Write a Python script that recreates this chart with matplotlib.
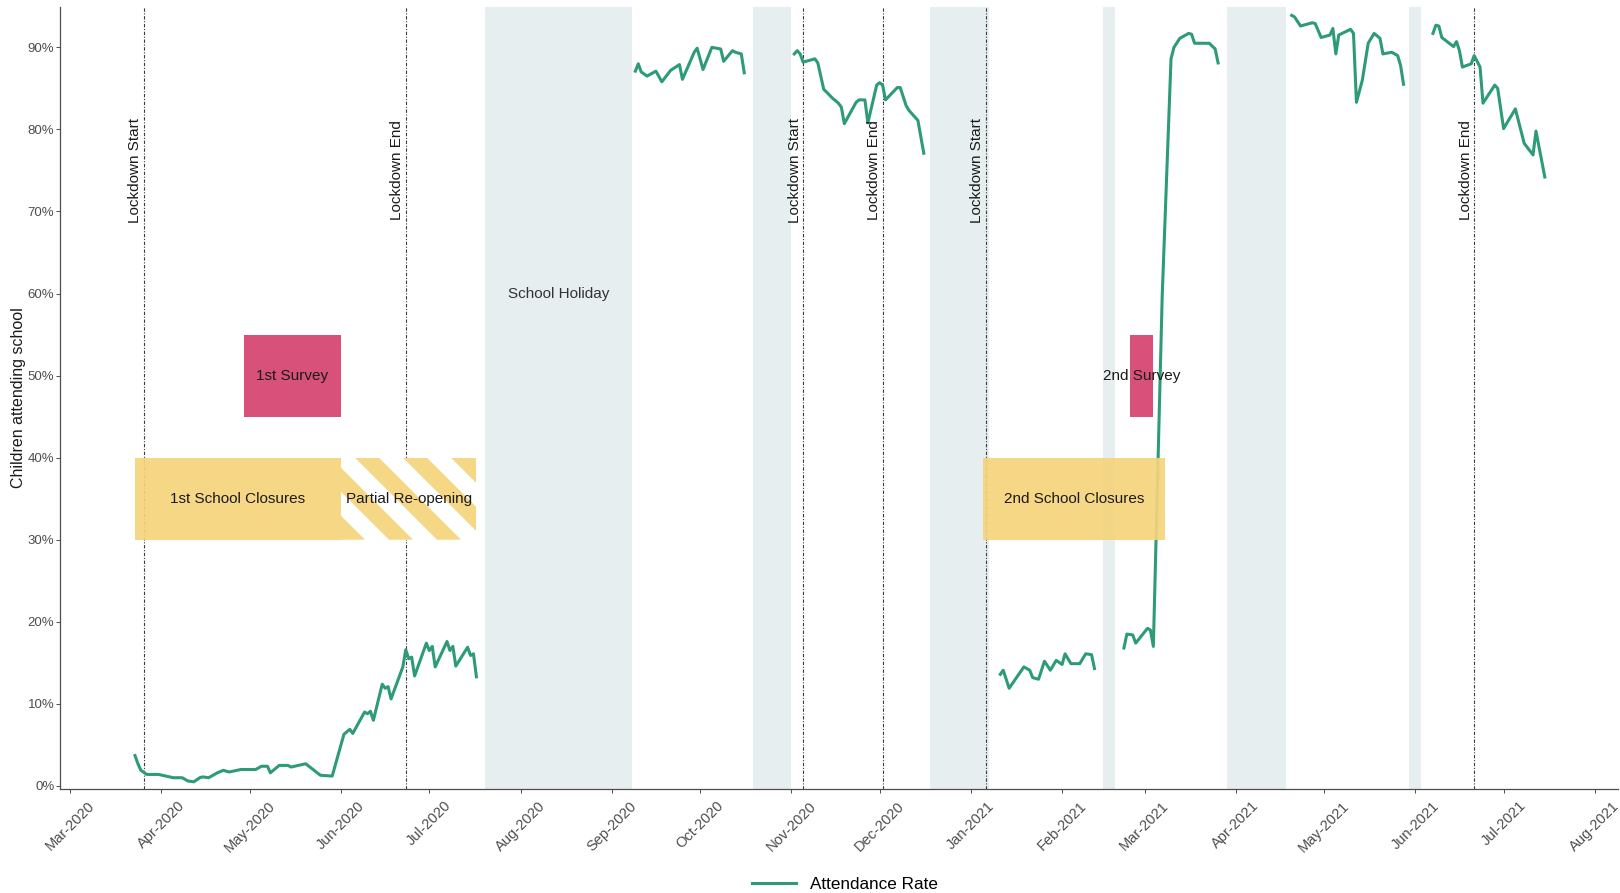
import matplotlib

matplotlib.use("Agg")
import matplotlib.pyplot as plt
import matplotlib.dates as mdates
import pandas as pd
from matplotlib.lines import Line2D
from matplotlib.patches import Polygon, Rectangle
from matplotlib.ticker import FuncFormatter, MultipleLocator

plt.rcParams.update({"font.family": ["Liberation Sans", "DejaVu Sans"], "font.size": 10})

GREEN = "#2E9B77"
SHADE = "#E6EEF0"
YELLOW = "#F5D47C"
PINK = "#D5426F"
INK = "#1A1A1A"
AXIS = "#4D4D4D"

# ── attendance rate (%), one list pair per school term ──
term1_dates = ["2020-03-23", "2020-03-24", "2020-03-25", "2020-03-27", "2020-03-31", "2020-04-05",
               "2020-04-08", "2020-04-10", "2020-04-12", "2020-04-14", "2020-04-15", "2020-04-17",
               "2020-04-20", "2020-04-22", "2020-04-24", "2020-04-28", "2020-04-30", "2020-05-03",
               "2020-05-05", "2020-05-07", "2020-05-08", "2020-05-11", "2020-05-14", "2020-05-15",
               "2020-05-20", "2020-05-25", "2020-05-29", "2020-06-02", "2020-06-04", "2020-06-05",
               "2020-06-09", "2020-06-10", "2020-06-11", "2020-06-12", "2020-06-15", "2020-06-16",
               "2020-06-17", "2020-06-18", "2020-06-22", "2020-06-23", "2020-06-24", "2020-06-25",
               "2020-06-26", "2020-06-30", "2020-07-01", "2020-07-02", "2020-07-03", "2020-07-07",
               "2020-07-08", "2020-07-09", "2020-07-10", "2020-07-14", "2020-07-15", "2020-07-16",
               "2020-07-17"]
term1_vals = [3.7, 2.7, 1.9, 1.4, 1.4, 1.0, 1.0, 0.6, 0.5, 1.0, 1.1, 1.0, 1.6, 1.9, 1.7, 2.0, 2.0, 2.0,
              2.4, 2.4, 1.6, 2.5, 2.5, 2.3, 2.7, 1.3, 1.2, 6.3, 6.9, 6.4, 9.0, 8.8, 9.1, 8.0, 12.4, 11.9,
              12.1, 10.6, 14.5, 16.6, 15.5, 15.7, 13.4, 17.4, 16.5, 17.0, 14.5, 17.6, 16.5, 17.0, 14.6,
              16.9, 15.9, 16.1, 13.3]

term2_dates = ["2020-09-09", "2020-09-10", "2020-09-11", "2020-09-13", "2020-09-16", "2020-09-18",
               "2020-09-21", "2020-09-24", "2020-09-25", "2020-09-29", "2020-09-30", "2020-10-02",
               "2020-10-05", "2020-10-08", "2020-10-09", "2020-10-12", "2020-10-13", "2020-10-15",
               "2020-10-16"]
term2_vals = [87.1, 88.0, 87.0, 86.5, 87.1, 85.8, 87.2, 87.9, 86.1, 89.4, 89.9, 87.3, 90.0, 89.8, 88.3,
              89.6, 89.4, 89.2, 86.9]

term3_dates = ["2020-11-02", "2020-11-03", "2020-11-04", "2020-11-05", "2020-11-09", "2020-11-10",
               "2020-11-12", "2020-11-15", "2020-11-17", "2020-11-18", "2020-11-19", "2020-11-23",
               "2020-11-24", "2020-11-26", "2020-11-27", "2020-11-30", "2020-12-01", "2020-12-02",
               "2020-12-03", "2020-12-07", "2020-12-08", "2020-12-10", "2020-12-11", "2020-12-14",
               "2020-12-16"]
term3_vals = [89.2, 89.6, 89.2, 88.2, 88.6, 88.1, 84.9, 83.8, 83.2, 82.7, 80.7, 83.3, 83.6, 83.6, 80.8,
              85.4, 85.7, 85.4, 83.6, 85.1, 85.1, 82.9, 82.3, 81.1, 77.1]

term4_dates = ["2021-01-11", "2021-01-12", "2021-01-14", "2021-01-19", "2021-01-21", "2021-01-22",
               "2021-01-24", "2021-01-26", "2021-01-28", "2021-01-30", "2021-02-01", "2021-02-02",
               "2021-02-04", "2021-02-07", "2021-02-09", "2021-02-11", "2021-02-12"]
term4_vals = [13.6, 14.1, 11.9, 14.5, 14.1, 13.2, 13.0, 15.2, 14.1, 15.3, 14.8, 16.1, 14.9, 14.9, 16.1,
              16.0, 14.3]

term5_dates = ["2021-02-22", "2021-02-23", "2021-02-25", "2021-02-26", "2021-03-02", "2021-03-03",
               "2021-03-04", "2021-03-07", "2021-03-10", "2021-03-11", "2021-03-13", "2021-03-16",
               "2021-03-17", "2021-03-18", "2021-03-23", "2021-03-25", "2021-03-26"]
term5_vals = [16.8, 18.5, 18.4, 17.4, 19.2, 19.0, 17.0, 59.6, 88.6, 90.0, 91.1, 91.7, 91.6, 90.5, 90.5,
              89.8, 88.1]

term6_dates = ["2021-04-20", "2021-04-21", "2021-04-23", "2021-04-27", "2021-04-28", "2021-04-30",
               "2021-05-03", "2021-05-04", "2021-05-05", "2021-05-06", "2021-05-10", "2021-05-11",
               "2021-05-12", "2021-05-14", "2021-05-16", "2021-05-18", "2021-05-20", "2021-05-21",
               "2021-05-24", "2021-05-26", "2021-05-27", "2021-05-28"]
term6_vals = [93.9, 93.7, 92.6, 93.0, 92.9, 91.2, 91.5, 92.3, 89.2, 91.5, 92.2, 91.7, 83.3, 86.0, 90.5,
              91.7, 91.1, 89.2, 89.4, 89.0, 87.8, 85.5]

term7_dates = ["2021-06-07", "2021-06-08", "2021-06-09", "2021-06-10", "2021-06-14", "2021-06-15",
               "2021-06-16", "2021-06-17", "2021-06-20", "2021-06-21", "2021-06-23", "2021-06-24",
               "2021-06-28", "2021-06-29", "2021-07-01", "2021-07-05", "2021-07-08", "2021-07-11",
               "2021-07-12", "2021-07-15"]
term7_vals = [91.7, 92.7, 92.6, 91.2, 90.1, 90.7, 89.6, 87.6, 88.0, 89.0, 87.6, 83.2, 85.4, 85.0, 80.1,
              82.5, 78.3, 76.9, 79.8, 74.2]

# ── school holidays (shaded) ──
holiday_starts = ["2020-07-20", "2020-10-19", "2020-12-18", "2021-02-15", "2021-03-29", "2021-05-30"]
holiday_ends = ["2020-09-08", "2020-11-01", "2021-01-07", "2021-02-19", "2021-04-18", "2021-06-03"]

# ── lockdown markers ──
lockdown_dates = ["2020-03-26", "2020-06-23", "2020-11-05", "2020-12-02", "2021-01-06", "2021-06-21"]
lockdown_labels = ["Lockdown Start", "Lockdown End", "Lockdown Start", "Lockdown End", "Lockdown Start",
                   "Lockdown End"]

# ── annotation boxes ──
closure1 = ("2020-03-23", "2020-06-01")
reopen1 = ("2020-06-01", "2020-07-17")
closure2 = ("2021-01-05", "2021-03-08")
survey1 = ("2020-04-29", "2020-06-01")
survey2 = ("2021-02-24", "2021-03-04")
closure_band = (30, 40)
survey_band = (45, 55)


def d(s):
    return mdates.date2num(pd.Timestamp(s))


fig = plt.figure(figsize=(16.2, 8.93), dpi=100)
ax = fig.add_axes([0.037, 0.1165, 0.962, 0.8755])
ax.set_xlim(d("2020-02-26 12:00"), d("2021-08-09"))
ax.set_ylim(-0.37, 94.9)

for s, e in zip(holiday_starts, holiday_ends):
    ax.axvspan(d(s), d(e), color=SHADE, zorder=0, lw=0)

terms = [(term1_dates, term1_vals), (term2_dates, term2_vals), (term3_dates, term3_vals),
         (term4_dates, term4_vals), (term5_dates, term5_vals), (term6_dates, term6_vals),
         (term7_dates, term7_vals)]
for dates, vals in terms:
    ax.plot([d(x) for x in dates], vals, color=GREEN, lw=2.2, zorder=2, solid_joinstyle="round")

for ld, lab in zip(lockdown_dates, lockdown_labels):
    ax.axvline(d(ld), color="#3A3A3A", lw=0.8, ls=(0, (3, 1.5, 1, 1.5)), zorder=1)
    ax.annotate(lab, (d(ld), 75), xytext=(-1, 0), textcoords="offset points", rotation=90,
                ha="right", va="center", fontsize=11, color=INK, zorder=5)


def box(span, band, color, label, alpha=0.92):
    x0, x1 = d(span[0]), d(span[1])
    ax.add_patch(Rectangle((x0, band[0]), x1 - x0, band[1] - band[0], facecolor=color,
                           edgecolor="none", alpha=alpha, zorder=3))
    ax.text((x0 + x1) / 2, (band[0] + band[1]) / 2, label, ha="center", va="center",
            fontsize=11, color=INK, zorder=5)


box(closure1, closure_band, YELLOW, "1st School Closures")
box(closure2, closure_band, YELLOW, "2nd School Closures")
box(survey1, survey_band, PINK, "1st Survey")
box(survey2, survey_band, PINK, "2nd Survey")

# striped "partial re-opening" block
rx0, rx1 = d(reopen1[0]), d(reopen1[1])
clip = Rectangle((rx0, closure_band[0]), rx1 - rx0, closure_band[1] - closure_band[0],
                 facecolor="white", edgecolor="none", zorder=3)
ax.add_patch(clip)
(px0, py0), (px1, py1) = ax.transData.transform([(rx0, closure_band[0]), (rx1, closure_band[1])])
inv = ax.transData.inverted()
period = 48.0
c = px0 - (py1 - py0)
while c < px1 + (py1 - py0):
    pts = [(c, py1), (c + period / 2, py1), (c + period / 2 + (py1 - py0), py0), (c + (py1 - py0), py0)]
    poly = Polygon(inv.transform(pts), closed=True, facecolor=YELLOW, edgecolor="none", alpha=0.92, zorder=3)
    ax.add_patch(poly)
    poly.set_clip_path(clip)
    c += period
ax.text((rx0 + rx1) / 2, sum(closure_band) / 2, "Partial Re-opening", ha="center", va="center",
        fontsize=11, color=INK, zorder=5)

hol_mid = (d(holiday_starts[0]) + d(holiday_ends[0])) / 2
ax.text(hol_mid, 60, "School Holiday", ha="center", va="center", fontsize=11, color="#333333", zorder=5)

# axes styling
ax.yaxis.set_major_locator(MultipleLocator(10))
ax.set_ylim(-0.37, 94.9)
ax.yaxis.set_major_formatter(FuncFormatter(lambda v, p: f"{v:.0f}%"))
ax.xaxis.set_major_locator(mdates.MonthLocator())
ax.xaxis.set_major_formatter(mdates.DateFormatter("%b-%Y"))
ax.tick_params(axis="both", colors=AXIS, labelsize=9.5, length=3, width=0.7)
ax.tick_params(axis="y", pad=1)
ax.tick_params(axis="x", labelsize=10.5, pad=4)
for lbl in ax.get_xticklabels():
    lbl.set_rotation(45)
    lbl.set_ha("center")
for sp in ("top", "right"):
    ax.spines[sp].set_visible(False)
for sp in ("left", "bottom"):
    ax.spines[sp].set_color(AXIS)
    ax.spines[sp].set_linewidth(0.9)
ax.set_ylabel("Children attending school", fontsize=11.5, color=INK)
ax.yaxis.set_label_coords(-0.0215, 0.5)

handle = Line2D([], [], color=GREEN, lw=2.2)
fig.legend([handle], ["Attendance Rate"], loc="lower center", bbox_to_anchor=(0.5215, -0.016),
           frameon=False, fontsize=12.3, handlelength=2.6)

fig.savefig("out.png", dpi=100, facecolor="white")
